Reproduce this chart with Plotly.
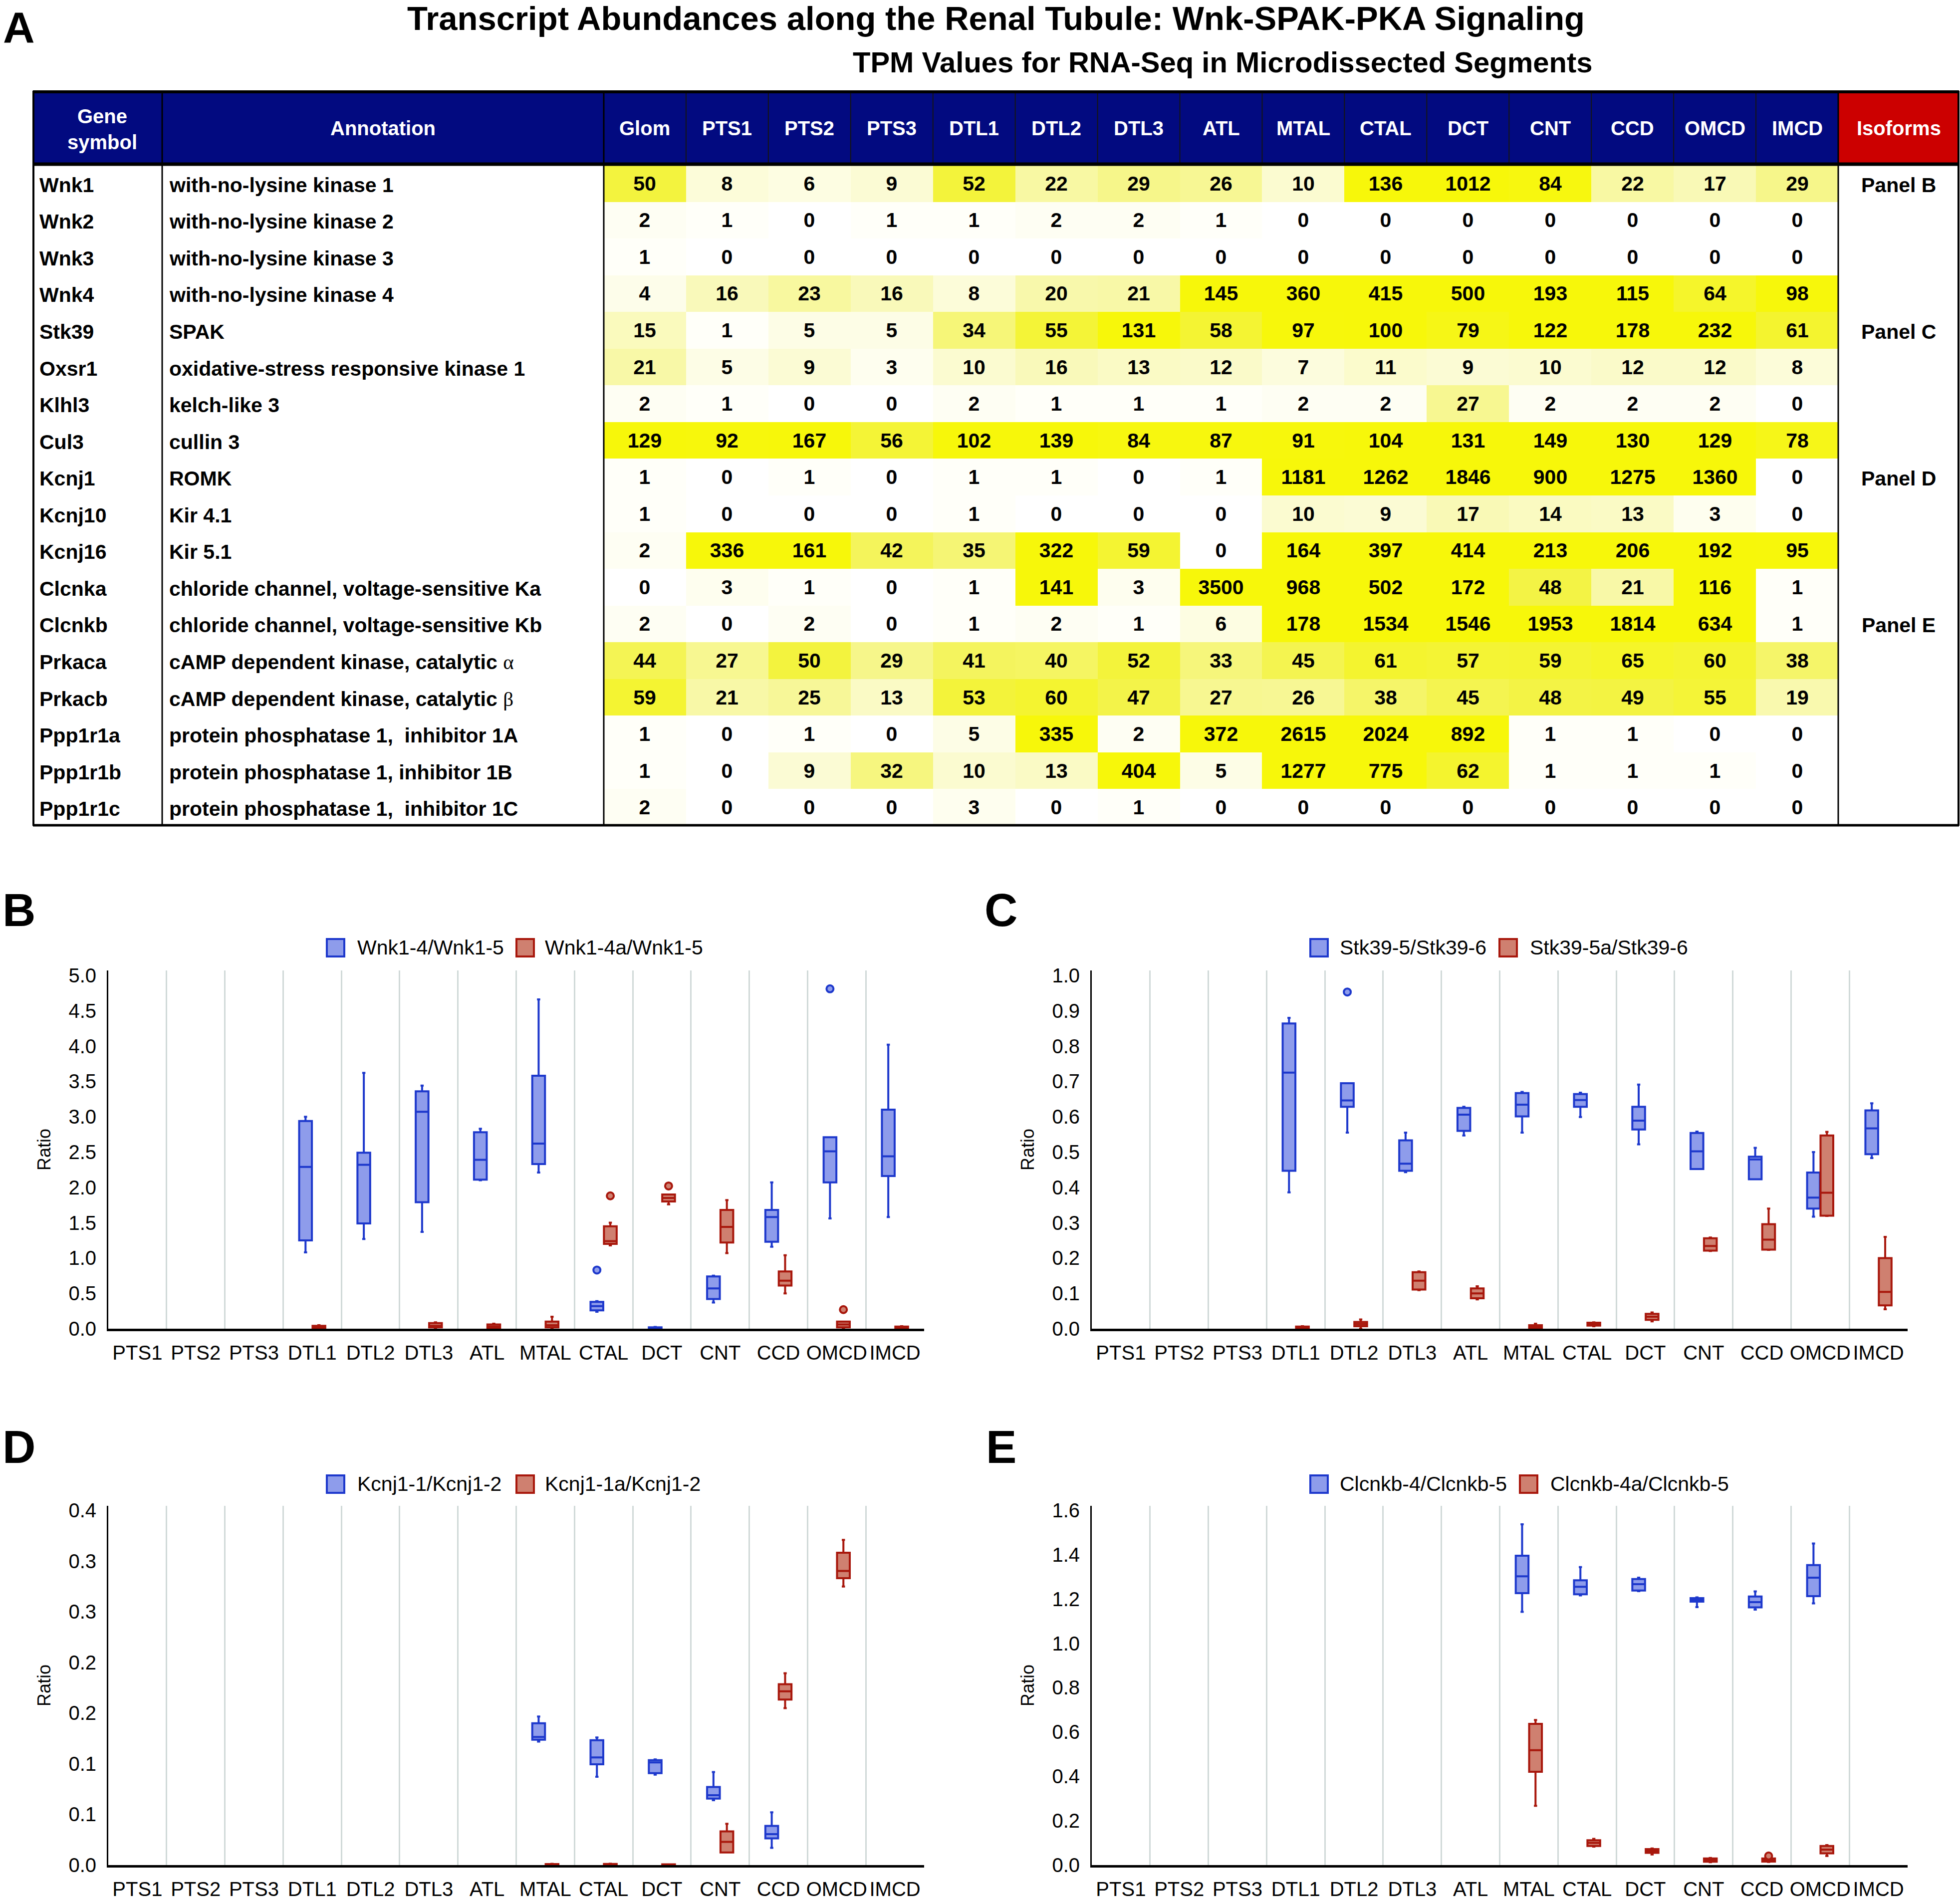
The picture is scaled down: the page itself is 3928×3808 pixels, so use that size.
import plotly.graph_objects as go

W, H = 3928, 3808
FONT = "Liberation Sans, Arial, Helvetica, sans-serif"

# ---------------------------------------------------------------- table data
segments = ["Glom", "PTS1", "PTS2", "PTS3", "DTL1", "DTL2", "DTL3", "ATL", "MTAL",
            "CTAL", "DCT", "CNT", "CCD", "OMCD", "IMCD"]
gene_symbols = ["Wnk1", "Wnk2", "Wnk3", "Wnk4", "Stk39", "Oxsr1", "Klhl3", "Cul3", "Kcnj1",
                "Kcnj10", "Kcnj16", "Clcnka", "Clcnkb", "Prkaca", "Prkacb", "Ppp1r1a",
                "Ppp1r1b", "Ppp1r1c"]
GREEK = "<span style=\"font-family:'Liberation Serif';font-weight:normal\">%s</span>"
gene_annotations = ["with-no-lysine kinase 1", "with-no-lysine kinase 2", "with-no-lysine kinase 3",
                    "with-no-lysine kinase 4", "SPAK", "oxidative-stress responsive kinase 1",
                    "kelch-like 3", "cullin 3", "ROMK", "Kir 4.1", "Kir 5.1",
                    "chloride channel, voltage-sensitive Ka",
                    "chloride channel, voltage-sensitive Kb",
                    "cAMP dependent kinase, catalytic " + GREEK % "α",
                    "cAMP dependent kinase, catalytic " + GREEK % "β",
                    "protein phosphatase 1,\u00a0 inhibitor 1A",
                    "protein phosphatase 1, inhibitor 1B",
                    "protein phosphatase 1,\u00a0 inhibitor 1C"]
isoform_notes = ["Panel B", "", "", "", "Panel C", "", "", "", "Panel D", "", "", "",
                 "Panel E", "", "", "", "", ""]

tpm_wnk1 = [50, 8, 6, 9, 52, 22, 29, 26, 10, 136, 1012, 84, 22, 17, 29]
tpm_wnk2 = [2, 1, 0, 1, 1, 2, 2, 1, 0, 0, 0, 0, 0, 0, 0]
tpm_wnk3 = [1, 0, 0, 0, 0, 0, 0, 0, 0, 0, 0, 0, 0, 0, 0]
tpm_wnk4 = [4, 16, 23, 16, 8, 20, 21, 145, 360, 415, 500, 193, 115, 64, 98]
tpm_stk39 = [15, 1, 5, 5, 34, 55, 131, 58, 97, 100, 79, 122, 178, 232, 61]
tpm_oxsr1 = [21, 5, 9, 3, 10, 16, 13, 12, 7, 11, 9, 10, 12, 12, 8]
tpm_klhl3 = [2, 1, 0, 0, 2, 1, 1, 1, 2, 2, 27, 2, 2, 2, 0]
tpm_cul3 = [129, 92, 167, 56, 102, 139, 84, 87, 91, 104, 131, 149, 130, 129, 78]
tpm_kcnj1 = [1, 0, 1, 0, 1, 1, 0, 1, 1181, 1262, 1846, 900, 1275, 1360, 0]
tpm_kcnj10 = [1, 0, 0, 0, 1, 0, 0, 0, 10, 9, 17, 14, 13, 3, 0]
tpm_kcnj16 = [2, 336, 161, 42, 35, 322, 59, 0, 164, 397, 414, 213, 206, 192, 95]
tpm_clcnka = [0, 3, 1, 0, 1, 141, 3, 3500, 968, 502, 172, 48, 21, 116, 1]
tpm_clcnkb = [2, 0, 2, 0, 1, 2, 1, 6, 178, 1534, 1546, 1953, 1814, 634, 1]
tpm_prkaca = [44, 27, 50, 29, 41, 40, 52, 33, 45, 61, 57, 59, 65, 60, 38]
tpm_prkacb = [59, 21, 25, 13, 53, 60, 47, 27, 26, 38, 45, 48, 49, 55, 19]
tpm_ppp1r1a = [1, 0, 1, 0, 5, 335, 2, 372, 2615, 2024, 892, 1, 1, 0, 0]
tpm_ppp1r1b = [1, 0, 9, 32, 10, 13, 404, 5, 1277, 775, 62, 1, 1, 1, 0]
tpm_ppp1r1c = [2, 0, 0, 0, 3, 0, 1, 0, 0, 0, 0, 0, 0, 0, 0]

# ---------------------------------------------------------------- box plot data
box_categories = ["PTS1", "PTS2", "PTS3", "DTL1", "DTL2", "DTL3", "ATL", "MTAL", "CTAL",
                  "DCT", "CNT", "CCD", "OMCD", "IMCD"]

# Panel B : Wnk1
wnk_labels = ["Wnk1-4/Wnk1-5", "Wnk1-4a/Wnk1-5"]
wnk_blue_cats = ["DTL1", "DTL2", "DTL3", "ATL", "MTAL", "CTAL", "DCT", "CNT", "CCD", "OMCD", "IMCD"]
wnk_blue_low = [1.08, 1.27, 1.37, 2.10, 2.21, 0.24, 0.005, 0.37, 1.16, 1.56, 1.58]
wnk_blue_q1 = [1.25, 1.49, 1.79, 2.11, 2.33, 0.26, 0.010, 0.42, 1.23, 2.07, 2.16]
wnk_blue_med = [2.29, 2.32, 3.07, 2.39, 2.62, 0.32, 0.015, 0.57, 1.58, 2.51, 2.44]
wnk_blue_q3 = [2.94, 2.49, 3.36, 2.78, 3.58, 0.38, 0.020, 0.74, 1.68, 2.71, 3.10]
wnk_blue_high = [3.00, 3.62, 3.44, 2.83, 4.66, 0.39, 0.025, 0.75, 2.07, 2.71, 4.02]
wnk_blue_out_cats = ["CTAL", "OMCD"]
wnk_blue_out = [0.83, 4.81]
wnk_red_cats = ["DTL1", "DTL3", "ATL", "MTAL", "CTAL", "DCT", "CNT", "CCD", "OMCD", "IMCD"]
wnk_red_low = [0.005, 0.01, 0.01, 0.01, 1.18, 1.76, 1.07, 0.50, 0.01, 0.005]
wnk_red_q1 = [0.01, 0.02, 0.015, 0.02, 1.20, 1.80, 1.22, 0.61, 0.02, 0.01]
wnk_red_med = [0.02, 0.04, 0.03, 0.05, 1.24, 1.85, 1.44, 0.68, 0.06, 0.02]
wnk_red_q3 = [0.04, 0.08, 0.06, 0.10, 1.45, 1.90, 1.68, 0.81, 0.10, 0.03]
wnk_red_high = [0.05, 0.09, 0.07, 0.17, 1.50, 1.90, 1.82, 1.04, 0.10, 0.035]
wnk_red_out_cats = ["CTAL", "DCT", "OMCD"]
wnk_red_out = [1.88, 2.02, 0.27]
wnk_tick_labels = ["0.0", "0.5", "1.0", "1.5", "2.0", "2.5", "3.0", "3.5", "4.0", "4.5", "5.0"]
wnk_tick_vals = [0.0, 0.5, 1.0, 1.5, 2.0, 2.5, 3.0, 3.5, 4.0, 4.5, 5.0]

# Panel C : Stk39
stk_labels = ["Stk39-5/Stk39-6", "Stk39-5a/Stk39-6"]
stk_blue_cats = ["DTL1", "DTL2", "DTL3", "ATL", "MTAL", "CTAL", "DCT", "CNT", "CCD", "OMCD", "IMCD"]
stk_blue_low = [0.386, 0.555, 0.443, 0.547, 0.555, 0.599, 0.522, 0.452, 0.423, 0.317, 0.483]
stk_blue_q1 = [0.447, 0.628, 0.447, 0.560, 0.601, 0.628, 0.564, 0.452, 0.423, 0.340, 0.494]
stk_blue_med = [0.725, 0.646, 0.467, 0.606, 0.634, 0.647, 0.589, 0.502, 0.479, 0.371, 0.567]
stk_blue_q3 = [0.864, 0.695, 0.533, 0.625, 0.667, 0.664, 0.628, 0.554, 0.487, 0.442, 0.618]
stk_blue_high = [0.880, 0.695, 0.555, 0.628, 0.670, 0.668, 0.691, 0.558, 0.512, 0.500, 0.638]
stk_blue_out_cats = ["DTL2"]
stk_blue_out = [0.953]
stk_red_cats = ["DTL1", "DTL2", "DTL3", "ATL", "MTAL", "CTAL", "DCT", "CNT", "CCD", "OMCD", "IMCD"]
stk_red_low = [0.001, 0.000, 0.109, 0.083, 0.001, 0.007, 0.021, 0.220, 0.223, 0.319, 0.055]
stk_red_q1 = [0.002, 0.007, 0.111, 0.086, 0.003, 0.009, 0.025, 0.221, 0.224, 0.320, 0.066]
stk_red_med = [0.004, 0.013, 0.136, 0.100, 0.006, 0.013, 0.034, 0.234, 0.252, 0.385, 0.104]
stk_red_q3 = [0.006, 0.019, 0.160, 0.114, 0.010, 0.017, 0.042, 0.256, 0.296, 0.547, 0.200]
stk_red_high = [0.007, 0.026, 0.162, 0.120, 0.014, 0.018, 0.046, 0.258, 0.340, 0.557, 0.260]
stk_red_out_cats = []
stk_red_out = []
stk_tick_labels = ["0.0", "0.1", "0.2", "0.3", "0.4", "0.5", "0.6", "0.7", "0.8", "0.9", "1.0"]
stk_tick_vals = [0.0, 0.1, 0.2, 0.3, 0.4, 0.5, 0.6, 0.7, 0.8, 0.9, 1.0]

# Panel D : Kcnj1
kcnj_labels = ["Kcnj1-1/Kcnj1-2", "Kcnj1-1a/Kcnj1-2"]
kcnj_blue_cats = ["MTAL", "CTAL", "DCT", "CNT", "CCD"]
kcnj_blue_low = [0.1218, 0.0872, 0.0892, 0.0640, 0.0170]
kcnj_blue_q1 = [0.1237, 0.0994, 0.0907, 0.0656, 0.0264]
kcnj_blue_med = [0.1264, 0.1062, 0.1013, 0.0689, 0.0305]
kcnj_blue_q3 = [0.1399, 0.1232, 0.1035, 0.0770, 0.0386]
kcnj_blue_high = [0.1466, 0.1259, 0.1042, 0.0918, 0.0521]
kcnj_blue_out_cats = []
kcnj_blue_out = []
kcnj_red_cats = ["MTAL", "CTAL", "DCT", "CNT", "CCD", "OMCD"]
kcnj_red_low = [0.0000, 0.0000, 0.0000, 0.0124, 0.1548, 0.2749]
kcnj_red_q1 = [0.0003, 0.0004, 0.0002, 0.0124, 0.1634, 0.2831]
kcnj_red_med = [0.0006, 0.0007, 0.0004, 0.0229, 0.1715, 0.2903]
kcnj_red_q3 = [0.0010, 0.0011, 0.0007, 0.0332, 0.1785, 0.3082]
kcnj_red_high = [0.0012, 0.0014, 0.0008, 0.0408, 0.1893, 0.3209]
kcnj_red_out_cats = []
kcnj_red_out = []
kcnj_tick_labels = ["0.0", "0.1", "0.1", "0.2", "0.2", "0.3", "0.3", "0.4"]
kcnj_tick_vals = [0.0, 0.05, 0.10, 0.15, 0.20, 0.25, 0.30, 0.35]

# Panel E : Clcnkb
clc_labels = ["Clcnkb-4/Clcnkb-5", "Clcnkb-4a/Clcnkb-5"]
clc_blue_cats = ["MTAL", "CTAL", "DCT", "CNT", "CCD", "OMCD"]
clc_blue_low = [1.142, 1.216, 1.235, 1.163, 1.152, 1.180]
clc_blue_q1 = [1.226, 1.221, 1.238, 1.188, 1.162, 1.213]
clc_blue_med = [1.302, 1.255, 1.267, 1.196, 1.186, 1.296]
clc_blue_q3 = [1.395, 1.284, 1.290, 1.204, 1.211, 1.353]
clc_blue_high = [1.537, 1.344, 1.296, 1.207, 1.234, 1.450]
clc_blue_out_cats = []
clc_blue_out = []
clc_red_cats = ["MTAL", "CTAL", "DCT", "CNT", "CCD", "OMCD"]
clc_red_low = [0.267, 0.083, 0.048, 0.013, 0.014, 0.041]
clc_red_q1 = [0.421, 0.086, 0.055, 0.015, 0.016, 0.053]
clc_red_med = [0.518, 0.100, 0.064, 0.022, 0.022, 0.070]
clc_red_q3 = [0.637, 0.112, 0.072, 0.030, 0.030, 0.086]
clc_red_high = [0.654, 0.118, 0.075, 0.032, 0.030, 0.090]
clc_red_out_cats = ["CCD"]
clc_red_out = [0.041]
clc_tick_labels = ["0.0", "0.2", "0.4", "0.6", "0.8", "1.0", "1.2", "1.4", "1.6"]
clc_tick_vals = [0.0, 0.2, 0.4, 0.6, 0.8, 1.0, 1.2, 1.4, 1.6]

# ---------------------------------------------------------------- styles
NAVY = "#020a80"
RED_HEAD = "#cc0000"
BLUE_LINE, BLUE_FILL = "#1d38cc", "#8e9ceb"
RED_LINE, RED_FILL = "#a8170c", "#cf8070"
GRID = "#d0d9d8"

fig = go.Figure()

# ---------------------------------------------------------------- table (pixel axis x5/y5)
TL, TR = 66, 3926           # table left/right
T_TOP, T_HEAD = 182, 331     # top border, header bottom
T_BOT = 1655
X_SYM, X_ANN, X_ISO = 325, 1210, 3684
ncol = len(segments)
col_w = (X_ISO - X_ANN) / ncol
col_edges = [X_ANN + i * col_w for i in range(ncol + 1)]
nrow = len(gene_symbols)
row_h = (T_BOT - T_HEAD) / nrow
row_edges = [T_HEAD + i * row_h for i in range(nrow + 1)]
row_mid = [T_HEAD + (i + 0.5) * row_h for i in range(nrow)]
col_mid = [X_ANN + (i + 0.5) * col_w for i in range(ncol)]

tpm_table = [tpm_wnk1, tpm_wnk2, tpm_wnk3, tpm_wnk4, tpm_stk39, tpm_oxsr1, tpm_klhl3,
             tpm_cul3, tpm_kcnj1, tpm_kcnj10, tpm_kcnj16, tpm_clcnka, tpm_clcnkb,
             tpm_prkaca, tpm_prkacb, tpm_ppp1r1a, tpm_ppp1r1b, tpm_ppp1r1c]

yellow_scale = [[0.0, "#ffffff"], [0.02, "#fefef3"], [0.10, "#fbfbd0"], [0.25, "#f7f798"],
                [0.50, "#f3f33e"], [0.85, "#f7f70e"], [1.0, "#f7f70a"]]

fig.add_trace(go.Heatmap(
    z=tpm_table, x=col_edges, y=row_edges, xaxis="x5", yaxis="y5",
    colorscale=yellow_scale, zmin=0, zmax=100, showscale=False,
    texttemplate="%{z}", textfont=dict(family=FONT, size=41, color="black", weight="bold"),
    hoverinfo="skip"))

shapes = []
annotations = []


def ann(x, y, text, size, color="black", xanchor="center", yanchor="middle", bold=True):
    annotations.append(dict(x=x, y=y, xref="x5", yref="y5", text=("<b>%s</b>" % text) if bold else text,
                            showarrow=False, xanchor=xanchor, yanchor=yanchor,
                            font=dict(family=FONT, size=size, color=color)))


def rect(x0, y0, x1, y1, fill=None, line=None, lw=0, layer="above"):
    shapes.append(dict(type="rect", xref="x5", yref="y5", x0=x0, y0=y0, x1=x1, y1=y1,
                       fillcolor=fill if fill else "rgba(0,0,0,0)",
                       line=dict(color=line if line else "rgba(0,0,0,0)", width=lw), layer=layer))


def hline(x0, x1, y, w, color="black"):
    shapes.append(dict(type="line", xref="x5", yref="y5", x0=x0, x1=x1, y0=y, y1=y,
                       line=dict(color=color, width=w), layer="above"))


def vline(x, y0, y1, w, color="black"):
    shapes.append(dict(type="line", xref="x5", yref="y5", x0=x, x1=x, y0=y0, y1=y1,
                       line=dict(color=color, width=w), layer="above"))


# header backgrounds
rect(TL, T_TOP, X_ISO, T_HEAD, fill=NAVY, layer="below")
rect(X_ISO, T_TOP, TR, T_HEAD, fill=RED_HEAD, layer="below")
# header separators
for xe in col_edges[1:-1]:
    vline(xe, T_TOP, T_HEAD, 2, "#151515")
# main lines
for xe in (X_SYM, X_ANN, X_ISO):
    vline(xe, T_TOP, T_BOT, 3)
vline(TL + 1, T_TOP, T_BOT, 4)
vline(TR - 1, T_TOP, T_BOT, 4)
hline(TL, TR, T_TOP + 2, 6)
hline(TL, TR, T_HEAD - 2, 7)
hline(TL, TR, T_BOT - 1, 5)

# header text
hy = (T_TOP + T_HEAD) / 2
ann(205, hy + 2, "Gene<br>symbol", 40, "white")
ann((X_SYM + X_ANN) / 2, hy, "Annotation", 40, "white")
for s, cx in zip(segments, col_mid):
    ann(cx, hy, s, 40, "white")
ann((X_ISO + TR) / 2, hy, "Isoforms", 40, "white")

# row text
for sym, desc, iso, ym in zip(gene_symbols, gene_annotations, isoform_notes, row_mid):
    ann(TL + 11, ym + 3, sym, 41, xanchor="left")
    ann(X_SYM + 12, ym + 3, desc, 41, xanchor="left")
    if iso:
        ann((X_ISO + TR) / 2, ym + 3, iso, 41)

# titles and panel letters
ann(1996, 36, "Transcript Abundances along the Renal Tubule: Wnk-SPAK-PKA Signaling", 67)
ann(2450, 124, "TPM Values for RNA-Seq in Microdissected Segments", 58)
ann(38, 54, "A", 88)
ann(38, 1824, "B", 92)
ann(2006, 1824, "C", 92)
ann(38, 2900, "D", 92)
ann(2006, 2900, "E", 92)

# ---------------------------------------------------------------- box panels
panels = [
    dict(ax="", xdom=(217, 1852), ydom=(1945, 2663), rng=5.07,
         ticks=(wnk_tick_vals, wnk_tick_labels), labels=wnk_labels,
         blue=(wnk_blue_cats, wnk_blue_low, wnk_blue_q1, wnk_blue_med, wnk_blue_q3, wnk_blue_high),
         blue_out=(wnk_blue_out_cats, wnk_blue_out),
         red=(wnk_red_cats, wnk_red_low, wnk_red_q1, wnk_red_med, wnk_red_q3, wnk_red_high),
         red_out=(wnk_red_out_cats, wnk_red_out),
         leg=(655, 714, 1035, 1090, 1899)),
    dict(ax="2", xdom=(2188, 3823), ydom=(1945, 2663), rng=1.014,
         ticks=(stk_tick_vals, stk_tick_labels), labels=stk_labels,
         blue=(stk_blue_cats, stk_blue_low, stk_blue_q1, stk_blue_med, stk_blue_q3, stk_blue_high),
         blue_out=(stk_blue_out_cats, stk_blue_out),
         red=(stk_red_cats, stk_red_low, stk_red_q1, stk_red_med, stk_red_q3, stk_red_high),
         red_out=(stk_red_out_cats, stk_red_out),
         leg=(2626, 2683, 3005, 3064, 1899)),
    dict(ax="3", xdom=(217, 1852), ydom=(3018, 3738), rng=0.3545,
         ticks=(kcnj_tick_vals, kcnj_tick_labels), labels=kcnj_labels,
         blue=(kcnj_blue_cats, kcnj_blue_low, kcnj_blue_q1, kcnj_blue_med, kcnj_blue_q3, kcnj_blue_high),
         blue_out=(kcnj_blue_out_cats, kcnj_blue_out),
         red=(kcnj_red_cats, kcnj_red_low, kcnj_red_q1, kcnj_red_med, kcnj_red_q3, kcnj_red_high),
         red_out=(kcnj_red_out_cats, kcnj_red_out),
         leg=(655, 714, 1035, 1090, 2974)),
    dict(ax="4", xdom=(2188, 3823), ydom=(3018, 3738), rng=1.62,
         ticks=(clc_tick_vals, clc_tick_labels), labels=clc_labels,
         blue=(clc_blue_cats, clc_blue_low, clc_blue_q1, clc_blue_med, clc_blue_q3, clc_blue_high),
         blue_out=(clc_blue_out_cats, clc_blue_out),
         red=(clc_red_cats, clc_red_low, clc_red_q1, clc_red_med, clc_red_q3, clc_red_high),
         red_out=(clc_red_out_cats, clc_red_out),
         leg=(2626, 2683, 3046, 3105, 2974)),
]

layout_axes = {}
for p in panels:
    xa, ya = "x" + p["ax"], "y" + p["ax"]
    for stats, outl, lc, fc, grp in (
        (p["blue"], p["blue_out"], BLUE_LINE, BLUE_FILL, "blue"),
        (p["red"], p["red_out"], RED_LINE, RED_FILL, "red"),
    ):
        cats, lo, q1, med, q3, hi = stats
        fig.add_trace(go.Box(x=cats, lowerfence=lo, q1=q1, median=med, q3=q3, upperfence=hi,
                             orientation="v", xaxis=xa, yaxis=ya, offsetgroup=grp, fillcolor=fc,
                             line=dict(color=lc, width=4), whiskerwidth=0.25,
                             showlegend=False, hoverinfo="skip"))
        if outl[0]:
            fig.add_trace(go.Box(x=outl[0], y=outl[1], orientation="v", xaxis=xa, yaxis=ya,
                                 offsetgroup=grp, boxpoints="all", jitter=0, pointpos=0,
                                 fillcolor="rgba(0,0,0,0)", line=dict(color=lc, width=0),
                                 marker=dict(symbol="circle", size=14, color=fc,
                                             line=dict(color=lc, width=4)),
                                 showlegend=False, hoverinfo="skip"))
    x0, x1 = p["xdom"]
    y0, y1 = p["ydom"]
    layout_axes["xaxis" + p["ax"]] = dict(
        domain=[x0 / W, x1 / W], anchor=ya, type="category",
        categoryorder="array", categoryarray=box_categories, range=[-0.5, len(box_categories) - 0.5],
        tickson="boundaries", showgrid=True, gridcolor=GRID, gridwidth=3,
        showline=True, linecolor="black", linewidth=5, ticks="", ticklabelstandoff=9,
        tickangle=0, automargin=False,
        tickfont=dict(family=FONT, size=40, color="black"), zeroline=False, fixedrange=True)
    layout_axes["yaxis" + p["ax"]] = dict(
        domain=[1 - y1 / H, 1 - y0 / H], anchor=xa, range=[0, p["rng"]], automargin=False,
        tickvals=p["ticks"][0], ticktext=p["ticks"][1], showgrid=False, zeroline=False,
        showline=True, linecolor="black", linewidth=3, ticks="outside", ticklen=13,
        tickcolor="rgba(0,0,0,0)",
        tickfont=dict(family=FONT, size=40, color="black"),
        title=dict(text="Ratio", font=dict(family=FONT, size=36, color="black"), standoff=25),
        fixedrange=True)
    # manual legend
    ix1, tx1, ix2, tx2, ly = p["leg"]
    rect(ix1, ly - 17, ix1 + 35, ly + 18, fill=BLUE_FILL, line=BLUE_LINE, lw=4)
    rect(ix2, ly - 17, ix2 + 35, ly + 18, fill=RED_FILL, line=RED_LINE, lw=4)
    ann(tx1, ly, p["labels"][0], 41, xanchor="left", bold=False)
    ann(tx2, ly, p["labels"][1], 41, xanchor="left", bold=False)

fig.update_layout(
    width=W, height=H, margin=dict(l=0, r=0, t=0, b=0, autoexpand=False),
    paper_bgcolor="white", plot_bgcolor="rgba(0,0,0,0)", showlegend=False,
    boxmode="group", boxgap=0.54, boxgroupgap=0.05,
    font=dict(family=FONT, color="black"),
    xaxis5=dict(domain=[0, 1], anchor="y5", range=[0, W], visible=False, fixedrange=True,
                automargin=False),
    yaxis5=dict(domain=[0, 1], anchor="x5", range=[H, 0], visible=False, fixedrange=True,
                automargin=False),
    shapes=shapes, annotations=annotations,
    **layout_axes)

fig.write_html("out.html", post_script="document.body.style.margin='0';",
               config={"displayModeBar": False})
